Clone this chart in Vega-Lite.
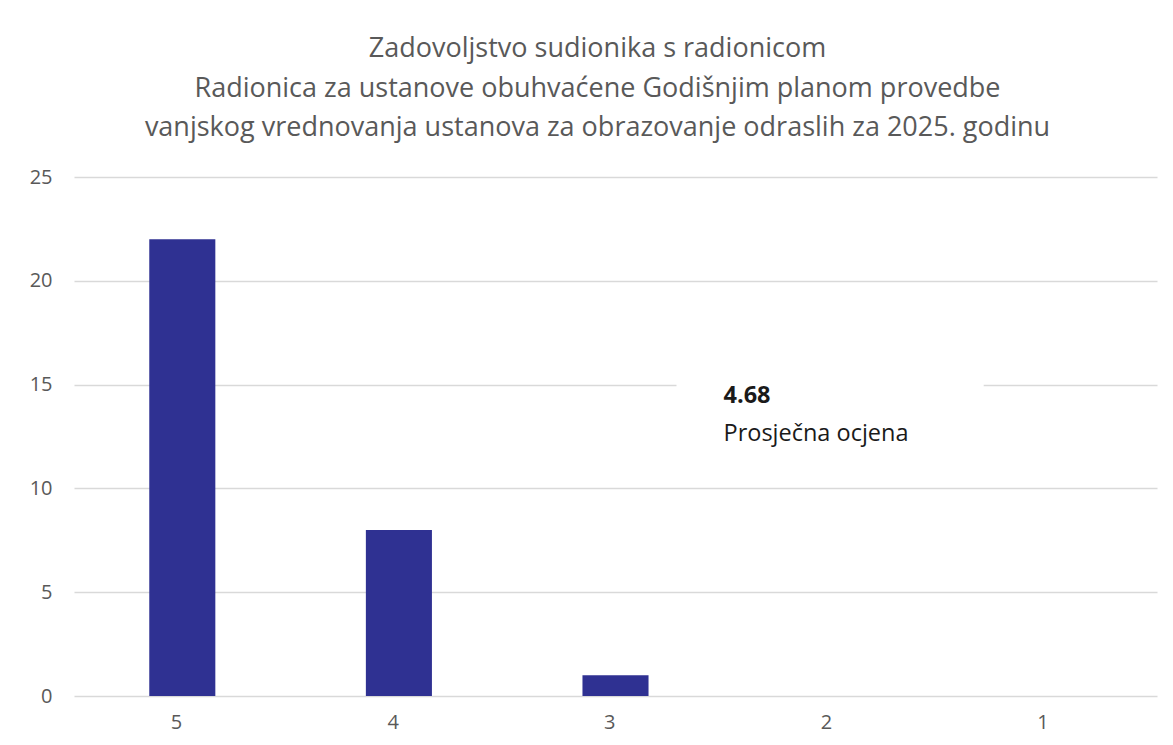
{
  "$schema": "https://vega.github.io/schema/vega-lite/v6.json",
  "width": 1083,
  "height": 519,
  "autosize": {"type": "none"},
  "padding": {"left": 74, "top": 177, "right": 16, "bottom": 49},
  "background": "white",
  "title": {
    "text": ["Zadovoljstvo sudionika s radionicom", "Radionica za ustanove obuhvaćene Godišnjim planom provedbe", "vanjskog vrednovanja ustanova za obrazovanje odraslih za 2025. godinu"],
    "anchor": "middle",
    "dx": -18,
    "offset": 25,
    "font": "Open Sans",
    "fontSize": 27,
    "fontWeight": "normal",
    "color": "#595959",
    "lineHeight": 39.5
  },
  "config": {"view": {"stroke": null}},
  "datasets": {
    "ocjene": [
      {"ocjena": "5", "broj": 22},
      {"ocjena": "4", "broj": 8},
      {"ocjena": "3", "broj": 1},
      {"ocjena": "2", "broj": 0},
      {"ocjena": "1", "broj": 0}
    ],
    "prosjek": [{"ocjena": "3", "y": 14.1, "tekst": "4.68"}],
    "opis": [{"ocjena": "3", "y": 12.3, "tekst": "Prosječna ocjena"}],
    "okvir": [{"od": "3", "do": "1", "y1": 13.5, "y2": 16.5}]
  },
  "layer": [
    {
      "data": {"name": "okvir"},
      "mark": {"type": "rect", "color": "white", "xOffset": 61, "x2Offset": -65},
      "encoding": {
        "x": {"field": "od", "type": "ordinal", "bandPosition": 0.5, "scale": {"domain": ["5", "4", "3", "2", "1"]}},
        "x2": {"field": "do", "bandPosition": 0.5},
        "y": {"field": "y1", "type": "quantitative"},
        "y2": {"field": "y2"}
      }
    },
    {
      "data": {"name": "ocjene"},
      "mark": {"type": "bar", "color": "#2f3192"},
      "encoding": {
        "x": {
          "field": "ocjena",
          "type": "ordinal",
          "scale": {"domain": ["5", "4", "3", "2", "1"], "paddingInner": 0.695, "paddingOuter": 0.3475},
          "axis": {"title": null, "labelAngle": 0, "domain": false, "ticks": false, "labelFontSize": 20, "labelColor": "#595959", "labelFont": "Open Sans", "labelPadding": 26}
        },
        "y": {
          "field": "broj",
          "type": "quantitative",
          "scale": {"domain": [0, 25], "nice": false},
          "axis": {"title": null, "values": [0, 5, 10, 15, 20, 25], "domain": false, "ticks": false, "gridColor": "#d9d9d9", "gridWidth": 1.5, "labelFontSize": 20, "labelColor": "#595959", "labelFont": "Open Sans", "labelPadding": 22}
        }
      }
    },
    {
      "data": {"name": "prosjek"},
      "mark": {"type": "text", "align": "left", "baseline": "alphabetic", "dx": 108, "font": "Open Sans", "fontSize": 23.5, "fontWeight": "bold", "color": "#1a1a1a"},
      "encoding": {
        "x": {"field": "ocjena", "type": "ordinal", "scale": {"domain": ["5", "4", "3", "2", "1"]}},
        "y": {"field": "y", "type": "quantitative"},
        "text": {"field": "tekst"}
      }
    },
    {
      "data": {"name": "opis"},
      "mark": {"type": "text", "align": "left", "baseline": "alphabetic", "dx": 108, "font": "Open Sans", "fontSize": 23.5, "color": "#1a1a1a"},
      "encoding": {
        "x": {"field": "ocjena", "type": "ordinal", "scale": {"domain": ["5", "4", "3", "2", "1"]}},
        "y": {"field": "y", "type": "quantitative"},
        "text": {"field": "tekst"}
      }
    }
  ]
}
